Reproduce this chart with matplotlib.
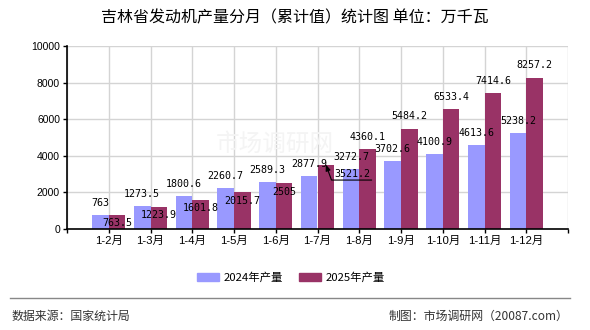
import numpy as np
import matplotlib
matplotlib.use('Agg')
import matplotlib.pyplot as plt
from matplotlib.lines import Line2D
from matplotlib.patches import Patch

plt.rcParams['font.family'] = ['Noto Sans CJK SC', 'DejaVu Sans']

months = ['1-2月', '1-3月', '1-4月', '1-5月', '1-6月', '1-7月',
          '1-8月', '1-9月', '1-10月', '1-11月', '1-12月']
prod_2024 = [763, 1273.5, 1800.6, 2260.7, 2589.3, 2877.9,
             3272.7, 3702.6, 4100.9, 4613.6, 5238.2]
prod_2025 = [763.5, 1223.9, 1601.8, 2015.7, 2505, 3521.2,
             4360.1, 5484.2, 6533.4, 7414.6, 8257.2]
labels_2025 = ['763.5', '1223.9', '1601.8', '2015.7', '2505', '3521.2',
               '4360.1', '5484.2', '6533.4', '7414.6', '8257.2']
labels_2024 = ['763', '1273.5', '1800.6', '2260.7', '2589.3', '2877.9',
               '3272.7', '3702.6', '4100.9', '4613.6', '5238.2']
y_ticks = [0, 2000, 4000, 6000, 8000, 10000]

c2024 = '#9999ff'
c2025 = '#993366'
W, H = 590, 330

fig = plt.figure(figsize=(W / 100, H / 100), dpi=100)
ax = fig.add_axes([67 / W, 1 - 229 / H, 501 / W, 183 / H])

x = np.arange(1, len(months) + 1)
bw = 0.4
ax.bar(x - bw / 2, prod_2024, bw, color=c2024, zorder=2)
ax.bar(x + bw / 2, prod_2025, bw, color=c2025, zorder=2)

ax.set_xlim(0, 12)
ax.set_ylim(0, 10000)
ax.set_yticks(y_ticks)
ax.set_yticklabels([str(v) for v in y_ticks], family='Liberation Sans', fontsize=7.5)
ax.set_xticks(np.arange(0, 13))
ax.set_xticklabels([''] + months + [''], family=['Liberation Sans', 'Noto Sans CJK SC'],
                   fontsize=8.2)
ax.tick_params(axis='both', direction='out', length=3, width=1, color='black', pad=2)
ax.grid(True, color='#d4d4d4', lw=1, zorder=0)
ax.set_axisbelow(True)
for s in ['top', 'right']:
    ax.spines[s].set_visible(False)
for s in ['left', 'bottom']:
    ax.spines[s].set_color('black')
    ax.spines[s].set_linewidth(1.2)

# faint watermark
ax.text(0.415, 0.465, '市场调研网', transform=ax.transAxes, ha='center', va='center',
        fontsize=17, color='#f4f4f4', zorder=1)

lab_font = dict(family='DejaVu Sans Mono', fontsize=7.2, ha='center', va='center', zorder=4)
for xi, v, t in zip(x, prod_2024, labels_2024):
    ax.annotate(t, (xi - bw / 2, v), xytext=(0, 12), textcoords='offset pixels', **lab_font)

dy_2025 = [-8, -8, -8, -9, -9, None, 12.5, 12.5, 12.5, 12.5, 12.5]
for xi, v, t, dy in zip(x, prod_2025, labels_2025, dy_2025):
    if dy is None:
        ax.annotate(t, (xi + bw / 2, v), xytext=(26, -9), textcoords='offset pixels',
                    arrowprops=dict(arrowstyle='-|>,head_length=0.5,head_width=0.2',
                                    color='black', lw=0.8, shrinkA=0, shrinkB=0,
                                    patchA=None, relpos=(1.05, -0.15),
                                    connectionstyle='angle,angleA=0,angleB=110,rad=0'),
                    **lab_font)
    else:
        ax.annotate(t, (xi + bw / 2, v), xytext=(0, dy), textcoords='offset pixels', **lab_font)

fig.text(295 / W, 1 - 18 / H, '吉林省发动机产量分月（累计值）统计图 单位：万千瓦',
         ha='center', va='center', fontsize=11.5, fontweight='medium', color='black')

handles = [Patch(color=c2024, label='2024年产量'), Patch(color=c2025, label='2025年产量')]
fig.legend(handles=handles, loc='center', bbox_to_anchor=(291 / W, 1 - 277.7 / H), ncol=2,
           frameon=False, fontsize=8.2, handlelength=1.9, handleheight=0.7,
           handletextpad=0.45, columnspacing=1.4, borderpad=0)

fig.add_artist(Line2D([10 / W, 570 / W], [1 - 298.3 / H] * 2, color='#888888', lw=1))
fig.text(12 / W, 1 - 316.7 / H, '数据来源：国家统计局', ha='left', va='center',
         fontsize=8.6, color='#333333')
fig.text(568 / W, 1 - 316.7 / H, '制图：市场调研网（20087.com）', ha='right', va='center',
         fontsize=8.6, color='#333333')

fig.savefig('out.png', dpi=100)
